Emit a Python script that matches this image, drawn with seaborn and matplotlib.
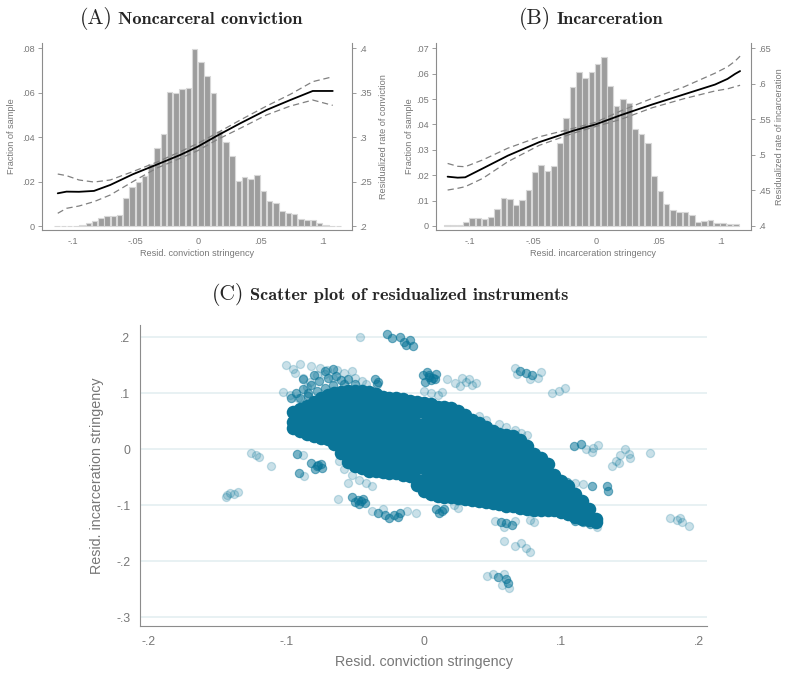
import numpy as np
import pandas as pd
import seaborn as sns
import matplotlib.pyplot as plt
from matplotlib.ticker import FuncFormatter

# ---------------- data ----------------
BIN_W = 0.005

# (A) noncarceral conviction: histogram (fraction of sample), first bin edge -0.115
conv_bin_start = -0.115
conv_hist = [0.0002, 0.0002, 0.0, 0.0, 0.0003, 0.0015, 0.0024, 0.0037, 0.0045, 0.0045,
             0.0050, 0.0128, 0.0177, 0.0200, 0.0225, 0.0280, 0.0350, 0.0414, 0.0605, 0.0600,
             0.0617, 0.0620, 0.0796, 0.0740, 0.0675, 0.0597, 0.0430, 0.0377, 0.0317, 0.0204,
             0.0222, 0.0212, 0.0230, 0.0159, 0.0113, 0.0105, 0.0068, 0.0057, 0.0054, 0.0032,
             0.0027, 0.0027, 0.0015, 0.0004, 0.0002, 0.0002]
conv_x = [-0.112, -0.105, -0.095, -0.083, -0.070, -0.052, -0.033, -0.014, 0.0, 0.015,
          0.034, 0.055, 0.074, 0.092, 0.108]
conv_rate = [0.2368, 0.2387, 0.2385, 0.2395, 0.2462, 0.2582, 0.2690, 0.2800, 0.2893, 0.3013,
             0.3156, 0.3306, 0.3418, 0.3520, 0.3520]
conv_hi = [0.2585, 0.2567, 0.2518, 0.2495, 0.2518, 0.2612, 0.2717, 0.2837, 0.2930, 0.3043,
           0.3193, 0.3350, 0.3482, 0.3625, 0.3680]
conv_lo = [0.2143, 0.2199, 0.2225, 0.2274, 0.2349, 0.2499, 0.2650, 0.2762, 0.2848, 0.2968,
           0.3100, 0.3250, 0.3350, 0.3418, 0.3358]

# (B) incarceration: histogram, first bin edge -0.121
inc_bin_start = -0.121
inc_hist = [0.0002, 0.0002, 0.0003, 0.0017, 0.0030, 0.0030, 0.0028, 0.0037, 0.0067, 0.0112,
            0.0106, 0.0084, 0.0104, 0.0143, 0.0214, 0.0241, 0.0218, 0.0238, 0.0328, 0.0427,
            0.0547, 0.0606, 0.0583, 0.0605, 0.0638, 0.0664, 0.0552, 0.0474, 0.0500, 0.0483,
            0.0383, 0.0362, 0.0327, 0.0195, 0.0137, 0.0085, 0.0063, 0.0055, 0.0056, 0.0043,
            0.0016, 0.0020, 0.0024, 0.0010, 0.0012, 0.0009, 0.0008]
inc_x = [-0.118, -0.110, -0.104, -0.090, -0.070, -0.045, -0.018, 0.0, 0.020, 0.045,
         0.070, 0.095, 0.105, 0.111, 0.115]
inc_rate = [0.4694, 0.4680, 0.4685, 0.4810, 0.4990, 0.5180, 0.5340, 0.5430, 0.5560, 0.5710,
            0.5850, 0.5990, 0.6070, 0.6140, 0.6180]
inc_hi = [0.4880, 0.4840, 0.4834, 0.4930, 0.5095, 0.5255, 0.5374, 0.5460, 0.5620, 0.5796,
          0.5955, 0.6150, 0.6240, 0.6320, 0.6390]
inc_lo = [0.4506, 0.4530, 0.4553, 0.4670, 0.4905, 0.5135, 0.5305, 0.5400, 0.5500, 0.5664,
          0.5790, 0.5900, 0.5930, 0.5960, 0.5980]

# (C) scatter: dense core of the cloud, column x -> y values
core_cols = [
    (-0.095, [0.038, 0.048, 0.066]),
    (-0.090, [0.033, 0.053, 0.072]),
    (-0.085, [0.028, 0.038, 0.058, 0.078]),
    (-0.080, [0.024, 0.044, 0.064, 0.084]),
    (-0.075, [0.021, 0.031, 0.051, 0.071, 0.091]),
    (-0.070, [0.018, 0.038, 0.058, 0.078, 0.097]),
    (-0.065, [0.010, 0.020, 0.040, 0.060, 0.080, 0.100]),
    (-0.060, [-0.006, 0.014, 0.034, 0.054, 0.074, 0.094, 0.103]),
    (-0.055, [-0.022, -0.012, 0.008, 0.028, 0.048, 0.068, 0.088, 0.105]),
    (-0.050, [-0.029, -0.009, 0.011, 0.031, 0.051, 0.071, 0.091, 0.105]),
    (-0.045, [-0.034, -0.024, -0.004, 0.016, 0.036, 0.056, 0.076, 0.096, 0.104]),
    (-0.040, [-0.038, -0.018, 0.002, 0.022, 0.042, 0.062, 0.082, 0.102]),
    (-0.035, [-0.039, -0.029, -0.009, 0.011, 0.031, 0.051, 0.071, 0.091, 0.098]),
    (-0.030, [-0.040, -0.020, 0.000, 0.020, 0.040, 0.060, 0.080, 0.094]),
    (-0.025, [-0.042, -0.032, -0.012, 0.008, 0.028, 0.048, 0.068, 0.088, 0.092]),
    (-0.020, [-0.043, -0.023, -0.003, 0.017, 0.037, 0.057, 0.077, 0.091]),
    (-0.015, [-0.046, -0.036, -0.016, 0.004, 0.024, 0.044, 0.064, 0.084, 0.089]),
    (-0.010, [-0.048, -0.028, -0.008, 0.012, 0.032, 0.052, 0.072, 0.087]),
    (-0.005, [-0.064, -0.054, -0.034, -0.014, 0.006, 0.026, 0.046, 0.066, 0.085]),
    (0.000, [-0.074, -0.054, -0.034, -0.014, 0.006, 0.026, 0.046, 0.066, 0.083]),
    (0.005, [-0.080, -0.070, -0.050, -0.030, -0.010, 0.010, 0.030, 0.050, 0.070, 0.081]),
    (0.010, [-0.084, -0.064, -0.044, -0.024, -0.004, 0.016, 0.036, 0.056, 0.076]),
    (0.015, [-0.085, -0.075, -0.055, -0.035, -0.015, 0.005, 0.025, 0.045, 0.065, 0.076]),
    (0.020, [-0.086, -0.066, -0.046, -0.026, -0.006, 0.014, 0.034, 0.054, 0.073]),
    (0.025, [-0.087, -0.077, -0.057, -0.037, -0.017, 0.003, 0.023, 0.043, 0.063, 0.069]),
    (0.030, [-0.088, -0.068, -0.048, -0.028, -0.008, 0.012, 0.032, 0.052, 0.061]),
    (0.035, [-0.090, -0.080, -0.060, -0.040, -0.020, 0.000, 0.020, 0.040, 0.052]),
    (0.040, [-0.092, -0.072, -0.052, -0.032, -0.012, 0.008, 0.028, 0.047]),
    (0.045, [-0.094, -0.084, -0.064, -0.044, -0.024, -0.004, 0.016, 0.036, 0.040]),
    (0.050, [-0.095, -0.075, -0.055, -0.035, -0.015, 0.005, 0.025, 0.032]),
    (0.055, [-0.098, -0.088, -0.068, -0.048, -0.028, -0.008, 0.012, 0.028]),
    (0.060, [-0.101, -0.081, -0.061, -0.041, -0.021, -0.001, 0.019, 0.025]),
    (0.065, [-0.102, -0.092, -0.072, -0.052, -0.032, -0.012, 0.008, 0.023]),
    (0.070, [-0.104, -0.084, -0.064, -0.044, -0.024, -0.004, 0.016]),
    (0.075, [-0.106, -0.096, -0.076, -0.056, -0.036, -0.016, 0.006]),
    (0.080, [-0.108, -0.088, -0.068, -0.048, -0.028, -0.008]),
    (0.085, [-0.108, -0.098, -0.078, -0.058, -0.038, -0.016]),
    (0.090, [-0.108, -0.088, -0.068, -0.048, -0.027]),
    (0.095, [-0.109, -0.099, -0.079, -0.059, -0.046]),
    (0.100, [-0.112, -0.092, -0.072, -0.056]),
    (0.105, [-0.116, -0.106, -0.086, -0.066]),
    (0.110, [-0.121, -0.101, -0.079]),
    (0.115, [-0.124, -0.114, -0.093]),
    (0.120, [-0.127, -0.107]),
    (0.125, [-0.130, -0.124]),
]

# tight little clusters around the cloud
dense_pts = [
    (-0.0271, 0.2053), (-0.0229, 0.1994), (-0.0173, 0.2006), (-0.0145, 0.1917), (-0.0103, 0.1947),
    (-0.0076, 0.1840), (-0.0131, 0.1858),
    (-0.0006, 0.1323), (0.0036, 0.1294), (0.0078, 0.1264), (0.0050, 0.1234), (0.0022, 0.1383),
    (0.0092, 0.1353), (0.0008, 0.1205), (0.0040, 0.1330), (0.0070, 0.1280),
    (-0.0341, 0.1175), (-0.0355, 0.1264), (-0.0330, 0.1210),
    (-0.082, -0.025), (-0.078, -0.030), (-0.075, -0.026), (-0.079, -0.035), (-0.074, -0.033), (-0.077, -0.028),
    (-0.052, -0.085), (-0.048, -0.090), (-0.044, -0.088), (-0.047, -0.097), (-0.043, -0.095),
    (-0.050, -0.094), (-0.046, -0.092),
    (-0.033, -0.114), (-0.028, -0.118), (-0.022, -0.117), (-0.017, -0.114), (-0.025, -0.122), (-0.019, -0.121),
    (0.009, -0.107), (0.013, -0.110), (0.011, -0.114), (0.015, -0.106),
    (0.122, -0.066), (0.133, -0.066), (0.134, -0.074), (0.104, -0.058),
    (0.110, -0.128), (0.116, -0.130), (0.121, -0.134),
    (0.070, 0.140), (0.074, 0.136), (0.079, 0.132),
    (0.109, 0.006), (0.114, 0.009),
    (-0.092, -0.008), (-0.091, -0.042),
    (0.056, -0.130), (0.060, -0.132), (0.064, -0.135),
    (0.060, -0.232), (0.061, -0.238), (0.054, -0.228),
    (-0.090, 0.092), (-0.084, 0.100), (-0.078, 0.104), (-0.072, 0.110), (-0.066, 0.114),
    (-0.058, 0.116), (-0.050, 0.117),
    (-0.093, 0.100), (-0.088, 0.108), (-0.082, 0.115), (-0.076, 0.122), (-0.070, 0.127),
    (-0.064, 0.131), (-0.088, 0.125), (-0.080, 0.133), (-0.072, 0.140), (-0.066, 0.143),
    (-0.060, 0.123), (-0.055, 0.125), (-0.097, 0.092), (-0.084, 0.095),
]

# faint scattered points
faint_pts = [
    (-0.0467, 0.2006),
    (0.017, 0.125), (0.023, 0.118), (0.028, 0.128), (0.031, 0.120), (0.035, 0.115), (0.026, 0.113),
    (0.033, 0.126), (0.038, 0.119),
    (0.000, 0.105), (0.005, 0.100), (0.010, 0.097), (0.013, 0.103),
    (-0.050, 0.128), (-0.045, 0.122), (-0.042, 0.117),
    (-0.095, 0.144), (-0.0938, 0.1355), (-0.0878, 0.1266), (-0.0829, 0.1205), (-0.0756, 0.1444),
    (-0.0708, 0.1414), (-0.0635, 0.1414), (-0.078, 0.1324), (-0.066, 0.1266), (-0.1023, 0.1027),
    (-0.0975, 0.0968), (-0.0914, 0.0909), (-0.072, 0.135), (-0.085, 0.112),
    (-0.088, -0.010), (-0.087, -0.047),
    (-0.111, -0.029),
    (-0.126, -0.007), (-0.122, -0.011), (-0.120, -0.014),
    (-0.062, -0.020), (-0.058, -0.035), (-0.052, -0.045), (-0.047, -0.055), (-0.042, -0.060),
    (-0.038, -0.065), (-0.055, -0.060),
    (-0.144, -0.085), (-0.141, -0.078), (-0.138, -0.080), (-0.135, -0.076), (-0.143, -0.081),
    (-0.0623, -0.0891),
    (-0.038, -0.110), (-0.012, -0.110), (-0.006, -0.113), (-0.030, -0.107),
    (0.022, -0.100), (0.025, -0.105),
    (0.052, -0.128), (0.058, -0.138), (0.066, -0.128), (0.077, -0.126), (0.080, -0.130),
    (0.058, -0.164), (0.066, -0.172), (0.074, -0.176), (0.077, -0.183), (0.071, -0.168),
    (0.046, -0.226), (0.050, -0.222), (0.058, -0.222), (0.057, -0.243), (0.062, -0.247),
    (0.099, -0.058), (0.110, -0.060), (0.116, -0.062),
    (0.126, -0.138),
    (0.066, 0.145), (0.068, 0.135), (0.083, 0.127), (0.077, 0.125), (0.085, 0.138),
    (0.093, 0.101), (0.098, 0.104), (0.103, 0.110),
    (0.118, 0.000), (0.123, 0.002), (0.127, 0.008), (0.122, -0.004),
    (0.137, -0.030), (0.140, -0.020), (0.143, -0.010), (0.146, 0.000), (0.149, -0.008),
    (0.150, -0.015), (0.142, -0.025),
    (0.1645, -0.007),
    (0.179, -0.123), (0.184, -0.126), (0.188, -0.130), (0.193, -0.137), (0.186, -0.122),
    (0.055, 0.045), (0.060, 0.040), (0.066, 0.035), (0.071, 0.030), (0.075, 0.025), (0.068, 0.018),
    (0.040, 0.060), (0.045, 0.052),
    (-0.100, 0.150), (-0.090, 0.152), (-0.082, 0.148), (-0.058, 0.136), (-0.052, 0.140),
]

# ---------------- styling ----------------
sns.set_theme(style="white")
plt.rcParams['font.family'] = ['Liberation Sans', 'DejaVu Sans']

AX_GRAY = '#8c8c8c'
TXT_GRAY = '#777777'
BLUE = '#0a7598'
W, H = 786, 673
SMALL = 6.6


def stata_fmt(v, pos=None):
    s = f"{v:.3f}".rstrip('0').rstrip('.')
    if s in ('-0', ''):
        s = '0'
    if s.startswith('0.'):
        s = s[1:]
    if s.startswith('-0.'):
        s = '-' + s[2:]
    return s


def rect(left, top, right, bottom):
    return [left / W, 1 - bottom / H, (right - left) / W, (bottom - top) / H]


def style_axis(ax, size, tick_len=3):
    ax.tick_params(axis='both', which='both', length=tick_len, width=0.6, color=AX_GRAY,
                   labelcolor=TXT_GRAY, labelsize=size, pad=2)
    for sp in ax.spines.values():
        sp.set_color(AX_GRAY)
        sp.set_linewidth(0.8)


fig = plt.figure(figsize=(W / 100, H / 100), dpi=100)


def hist_panel(box, bin_start, heights, xs, mid, hi, lo, xlim, ylim, rscale, rbase,
               yticks, rticks, xlabel, rlabel, lab_x):
    ax = fig.add_axes(box)
    edges = bin_start + BIN_W * np.arange(len(heights) + 1)
    bars = pd.DataFrame({'center': edges[:-1] + BIN_W / 2, 'frac': heights})
    sns.histplot(data=bars, x='center', weights='frac', bins=list(edges), ax=ax,
                 color='#9d9d9d', edgecolor='#d8d8d8', linewidth=0.8, alpha=1, shrink=0.9)
    ax.set_xlim(*xlim)
    ax.set_ylim(*ylim)
    ax.set_xticks([-0.1, -0.05, 0, 0.05, 0.1])
    ax.set_yticks(yticks)
    ax.xaxis.set_major_formatter(FuncFormatter(stata_fmt))
    ax.yaxis.set_major_formatter(FuncFormatter(stata_fmt))
    ax.set_xlabel(xlabel, color=TXT_GRAY, fontsize=SMALL)
    ax.set_ylabel('Fraction of sample', color=TXT_GRAY, fontsize=SMALL)
    ax.spines['top'].set_visible(False)
    ax.spines['right'].set_visible(False)
    style_axis(ax, SMALL)

    ax2 = ax.twinx()
    lines = pd.DataFrame({'x': xs, 'mid': mid, 'hi': hi, 'lo': lo})
    sns.lineplot(data=lines, x='x', y='hi', ax=ax2, color='#808080', lw=0.9, linestyle=(0, (5, 3)))
    sns.lineplot(data=lines, x='x', y='lo', ax=ax2, color='#808080', lw=0.9, linestyle=(0, (5, 3)))
    sns.lineplot(data=lines, x='x', y='mid', ax=ax2, color='black', lw=1.3)
    ax2.set_ylim(rbase + rscale * ylim[0], rbase + rscale * ylim[1])
    ax2.set_yticks(rticks)
    ax2.yaxis.set_major_formatter(FuncFormatter(stata_fmt))
    ax2.set_ylabel(rlabel, color=TXT_GRAY, fontsize=SMALL)
    for s in ('top', 'left', 'bottom'):
        ax2.spines[s].set_visible(False)
    style_axis(ax2, SMALL)

    ax.yaxis.set_label_coords(lab_x[0], 0.5)
    ax2.yaxis.set_label_coords(lab_x[1], 0.5)
    ax.xaxis.set_label_coords(0.5, -0.10)
    return ax


hist_panel(rect(42, 43, 352, 230), conv_bin_start, conv_hist, conv_x, conv_rate, conv_hi, conv_lo,
           (-0.1246, 0.1234), (-0.0018, 0.0824), 2.5, 0.2,
           [0, 0.02, 0.04, 0.06, 0.08], [0.2, 0.25, 0.3, 0.35, 0.4],
           'Resid. conviction stringency', 'Residualized rate of conviction', (-0.085, 1.087))

hist_panel(rect(435.7, 43, 751, 230), inc_bin_start, inc_hist, inc_x, inc_rate, inc_hi, inc_lo,
           (-0.1275, 0.1237), (-0.00158, 0.0721), 0.25 / 0.07, 0.4,
           [0, 0.01, 0.02, 0.03, 0.04, 0.05, 0.06, 0.07], [0.4, 0.45, 0.5, 0.55, 0.6, 0.65],
           'Resid. incarceration stringency', 'Residualized rate of incarceration', (-0.070, 1.076))

# ---------------- panel C ----------------
axc = fig.add_axes(rect(140, 325, 707, 626))
core_df = pd.DataFrame([(x, y) for x, ys in core_cols for y in ys], columns=['x', 'y'])
dense_df = pd.DataFrame(dense_pts, columns=['x', 'y'])
faint_df = pd.DataFrame(faint_pts, columns=['x', 'y'])

sns.scatterplot(data=faint_df, x='x', y='y', ax=axc, color=BLUE, s=34, alpha=0.22,
                edgecolor=BLUE, linewidth=0.9)
sns.scatterplot(data=dense_df, x='x', y='y', ax=axc, color=BLUE, s=36, alpha=0.55,
                edgecolor=BLUE, linewidth=0.8)
sns.scatterplot(data=core_df, x='x', y='y', ax=axc, color=BLUE, s=95, alpha=1,
                linewidth=0)

axc.set_xlim(-0.2065, 0.206)
axc.set_ylim(-0.3155, 0.222)
axc.set_xticks([-0.2, -0.1, 0, 0.1, 0.2])
axc.set_yticks([-0.3, -0.2, -0.1, 0, 0.1, 0.2])
axc.xaxis.set_major_formatter(FuncFormatter(stata_fmt))
axc.yaxis.set_major_formatter(FuncFormatter(stata_fmt))
axc.grid(axis='y', color='#e6f0f2', lw=1.3)
axc.grid(axis='x', visible=False)
axc.set_axisbelow(True)
axc.spines['top'].set_visible(False)
axc.spines['right'].set_visible(False)
style_axis(axc, 8.8, tick_len=5)
axc.set_xlabel('Resid. conviction stringency', color=TXT_GRAY, fontsize=10.3)
axc.set_ylabel('Resid. incarceration stringency', color=TXT_GRAY, fontsize=10.3)
axc.xaxis.set_label_coords(0.5, -0.095)
axc.yaxis.set_label_coords(-0.064, 0.5)

# ---------------- titles ----------------
renderer = fig.canvas.get_renderer()


def panel_title(xc, base_px, tag, name, tag_size, name_size):
    y = 1 - base_px / H
    t1 = fig.text(0, y, tag, family='cmr10', fontsize=tag_size, va='baseline')
    t2 = fig.text(0, y, name, family='cmb10', fontsize=name_size, va='baseline')
    w1 = t1.get_window_extent(renderer).width / W
    w2 = t2.get_window_extent(renderer).width / W
    gap = 6 / W
    x0 = xc / W - (w1 + gap + w2) / 2
    t1.set_x(x0)
    t2.set_x(x0 + w1 + gap)


panel_title(191, 24, '(A)', 'Noncarceral conviction', 15.5, 13.2)
panel_title(591, 24, '(B)', 'Incarceration', 15.5, 13.2)
panel_title(390, 300, '(C)', 'Scatter plot of residualized instruments', 15.5, 13.2)

fig.savefig('out.png', dpi=100)
